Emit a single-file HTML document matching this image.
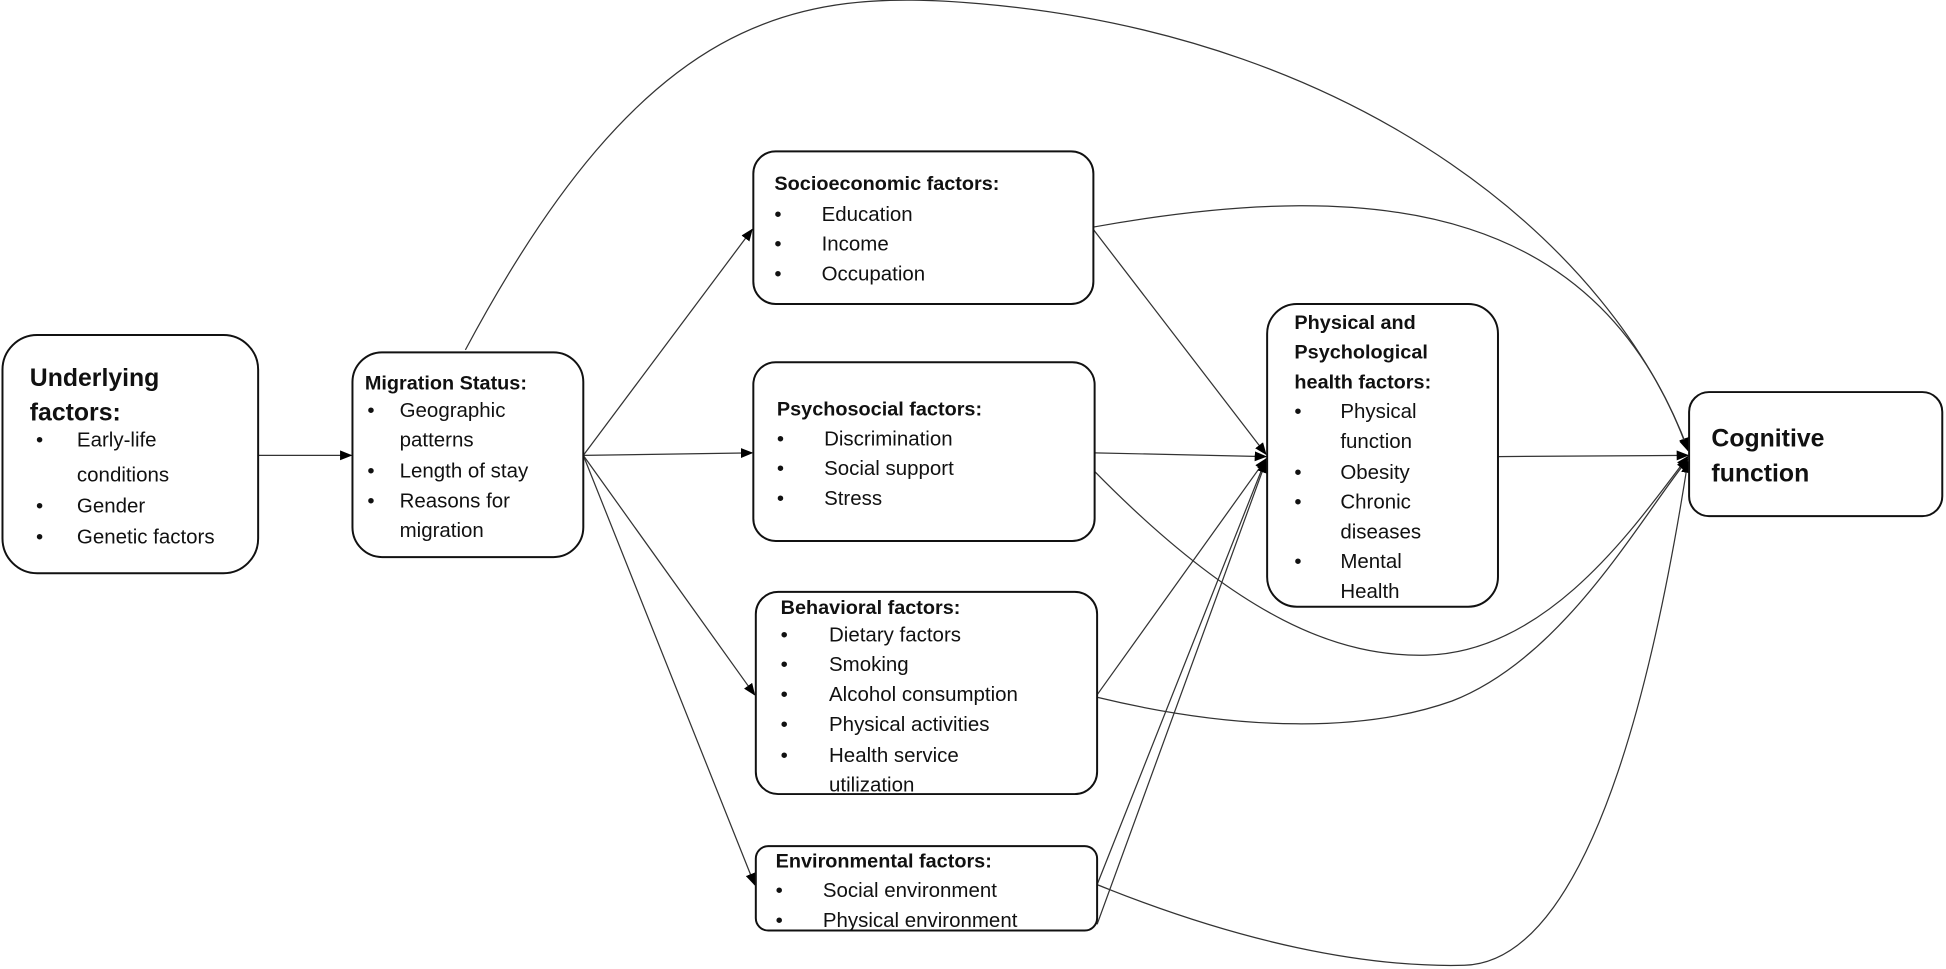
<!DOCTYPE html>
<html><head><meta charset="utf-8"><style>
html,body{margin:0;padding:0;background:#fff;}
svg{display:block;}
text{font-family:"Liberation Sans",sans-serif;fill:#111;}
.h{font-weight:bold;font-size:16px;}
.b{font-size:16.5px;}
.big{font-weight:bold;font-size:20px;}
</style></head><body>
<svg width="1946" height="969" viewBox="0 0 1568 781" preserveAspectRatio="none" xmlns="http://www.w3.org/2000/svg">
<defs><marker id="a" markerWidth="10" markerHeight="8" refX="9" refY="4" orient="auto" markerUnits="userSpaceOnUse"><path d="M0,0 L10,4 L0,8 z" fill="#000"/></marker></defs>
<g fill="none" stroke="#333" stroke-width="1">
<path d="M208,367 L283,367" marker-end="url(#a)"/>
<path d="M470,367 L606,185" marker-end="url(#a)"/>
<path d="M470,367 L606,365" marker-end="url(#a)"/>
<path d="M470,367 L608,560" marker-end="url(#a)"/>
<path d="M470,367 L608,713" marker-end="url(#a)"/>
<path d="M375,282 C520,10 640,-10 790,3 C1100,30 1300,200 1360,362" marker-end="url(#a)"/>
<path d="M881,183 C1120,140 1290,170 1360,363" marker-end="url(#a)"/>
<path d="M881,185 L1020,366" marker-end="url(#a)"/>
<path d="M882,365 L1020,368" marker-end="url(#a)"/>
<path d="M882,380 C1000,500 1080,530 1150,528 C1250,525 1320,420 1360,368" marker-end="url(#a)"/>
<path d="M884,560 L1020,370" marker-end="url(#a)"/>
<path d="M884,562 C1000,590 1100,590 1170,565 C1260,530 1320,420 1360,370" marker-end="url(#a)"/>
<path d="M884,713 L1020,370" marker-end="url(#a)"/>
<path d="M884,713 C1000,760 1100,780 1180,778 C1290,775 1340,500 1360,372" marker-end="url(#a)"/>
<path d="M884,745 L1020,372" marker-end="url(#a)"/>
<path d="M1207,368 L1360,367" marker-end="url(#a)"/>
</g>
<g fill="#fff" stroke="#111" stroke-width="1.6">
<rect x="2" y="270" width="206" height="192" rx="28"/>
<rect x="284" y="284" width="186" height="165" rx="24"/>
<rect x="607" y="122" width="274" height="123" rx="18"/>
<rect x="607" y="292" width="275" height="144" rx="18"/>
<rect x="609" y="477" width="275" height="163" rx="18"/>
<rect x="609" y="682" width="275" height="68" rx="10"/>
<rect x="1021" y="245" width="186" height="244" rx="24"/>
<rect x="1361" y="316" width="204" height="100" rx="16"/>
</g>
<text class="big" x="24" y="311">Underlying</text>
<text class="big" x="24" y="339">factors:</text>
<g class="b"><text x="29" y="360">•</text><text x="62" y="360">Early-life</text><text x="62" y="388">conditions</text>
<text x="29" y="413">•</text><text x="62" y="413">Gender</text>
<text x="29" y="438">•</text><text x="62" y="438">Genetic factors</text></g>
<text class="h" x="294" y="314">Migration Status:</text>
<g class="b"><text x="296" y="336">•</text><text x="322" y="336">Geographic</text><text x="322" y="360">patterns</text>
<text x="296" y="385">•</text><text x="322" y="385">Length of stay</text>
<text x="296" y="409">•</text><text x="322" y="409">Reasons for</text><text x="322" y="433">migration</text></g>
<text class="h" x="624" y="153">Socioeconomic factors:</text>
<g class="b"><text x="624" y="178">•</text><text x="662" y="178">Education</text>
<text x="624" y="202">•</text><text x="662" y="202">Income</text>
<text x="624" y="226">•</text><text x="662" y="226">Occupation</text></g>
<text class="h" x="626" y="335">Psychosocial factors:</text>
<g class="b"><text x="626" y="359">•</text><text x="664" y="359">Discrimination</text>
<text x="626" y="383">•</text><text x="664" y="383">Social support</text>
<text x="626" y="407">•</text><text x="664" y="407">Stress</text></g>
<text class="h" x="629" y="495">Behavioral factors:</text>
<g class="b"><text x="629" y="517">•</text><text x="668" y="517">Dietary factors</text>
<text x="629" y="541">•</text><text x="668" y="541">Smoking</text>
<text x="629" y="565">•</text><text x="668" y="565">Alcohol consumption</text>
<text x="629" y="589">•</text><text x="668" y="589">Physical activities</text>
<text x="629" y="614">•</text><text x="668" y="614">Health service</text><text x="668" y="638">utilization</text></g>
<text class="h" x="625" y="699">Environmental factors:</text>
<g class="b"><text x="625" y="723">•</text><text x="663" y="723">Social environment</text>
<text x="625" y="747">•</text><text x="663" y="747">Physical environment</text></g>
<text class="h" x="1043" y="265">Physical and</text>
<text class="h" x="1043" y="289">Psychological</text>
<text class="h" x="1043" y="313">health factors:</text>
<g class="b"><text x="1043" y="337">•</text><text x="1080" y="337">Physical</text><text x="1080" y="361">function</text>
<text x="1043" y="386">•</text><text x="1080" y="386">Obesity</text>
<text x="1043" y="410">•</text><text x="1080" y="410">Chronic</text><text x="1080" y="434">diseases</text>
<text x="1043" y="458">•</text><text x="1080" y="458">Mental</text><text x="1080" y="482">Health</text></g>
<text class="big" x="1379" y="360">Cognitive</text>
<text class="big" x="1379" y="388">function</text>
</svg>
</body></html>
